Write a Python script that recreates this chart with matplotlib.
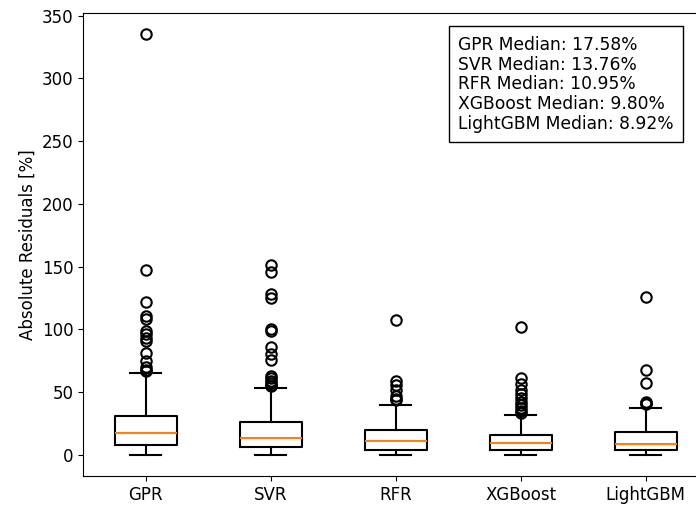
import matplotlib
matplotlib.use("Agg")
import matplotlib.pyplot as plt

plt.rcParams["font.size"] = 12

models = ["GPR", "SVR", "RFR", "XGBoost", "LightGBM"]
medians = [17.58, 13.76, 10.95, 9.80, 8.92]
q1 = [7.7, 6.4, 4.0, 4.3, 3.7]
q3 = [31.0, 26.3, 20.2, 15.9, 18.1]
whis_lo = [0.3, 0.0, 0.0, 0.0, 0.0]
whis_hi = [65.5, 53.3, 39.5, 32.1, 37.4]
outliers = [
    [335.5, 147, 122, 110.5, 108.5, 99, 96.5, 93.5, 91, 81.5, 74.5, 70, 68, 67],
    [151, 145.5, 128, 125, 100, 99, 86, 80.5, 76, 63, 61, 59, 57.5, 56, 54.5],
    [107.5, 58.5, 55.5, 52, 47, 44.5, 43.5],
    [102, 61, 56.5, 52, 48.5, 45, 42, 39.5, 37, 35, 33.5],
    [126, 67.5, 57.5, 42.5, 41.5, 40.5],
]

stats = []
for i, name in enumerate(models):
    stats.append({
        "label": name,
        "med": medians[i],
        "q1": q1[i],
        "q3": q3[i],
        "whislo": whis_lo[i],
        "whishi": whis_hi[i],
        "fliers": outliers[i],
    })

lw = 1.5
fig = plt.figure(figsize=(6.96, 5.08), dpi=100)
ax = fig.add_axes([0.1197, 0.063, 0.898, 0.912])
ax.bxp(stats,
       boxprops=dict(linewidth=lw),
       whiskerprops=dict(linewidth=lw),
       capprops=dict(linewidth=lw),
       medianprops=dict(linewidth=lw, color="C1"),
       flierprops=dict(marker="o", markersize=7.5, markeredgewidth=lw,
                       markerfacecolor="none"))
ax.set_xlim(0.5, 5.5)
ax.set_ylim(-16.8, 352.3)
ax.set_ylabel("Absolute Residuals [%]")

summary = "\n".join(f"{n} Median: {m:.2f}%" for n, m in zip(models, medians))
ax.text(0.6, 0.95, summary, transform=ax.transAxes, ha="left", va="top",
        fontsize=12.3, linespacing=1.12,
        bbox=dict(boxstyle="square,pad=0.55", facecolor="white", edgecolor="black"))

fig.savefig("out.png", dpi=100)
